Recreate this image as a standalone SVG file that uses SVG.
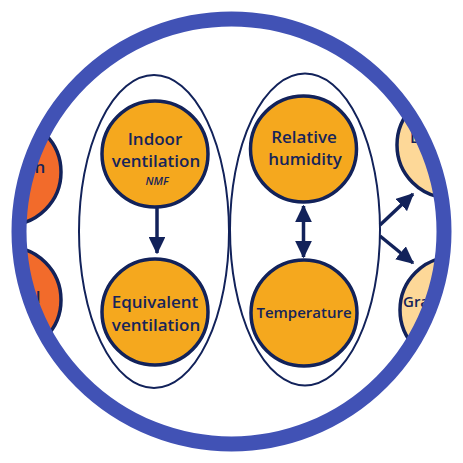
<svg xmlns="http://www.w3.org/2000/svg" width="463" height="463" viewBox="0 0 463 463">
<style>
.t{font-family:"Open Sans","Noto Sans",sans-serif;font-weight:600;fill:#16245A;text-anchor:middle}
.n{stroke:#12225A;stroke-width:3.5}
.o{fill:#F5A81E}
.r{fill:#F26B2B}
.p{fill:#FDD898}
.e{fill:none;stroke:#12225A;stroke-width:2}
.c{stroke:#12225A;stroke-width:3.5;fill:none}
</style>
<defs>
<clipPath id="clip"><circle cx="231.5" cy="231.5" r="206"/></clipPath>
<marker id="ah" markerWidth="5" markerHeight="4.8" refX="4.6" refY="2.4" orient="auto" markerUnits="strokeWidth"><path d="M0,0 L5,2.4 L0,4.8 Z" fill="#12225A"/></marker>
<marker id="ahs" markerWidth="5" markerHeight="4.8" refX="0.4" refY="2.4" orient="auto" markerUnits="strokeWidth"><path d="M5,0 L0,2.4 L5,4.8 Z" fill="#12225A"/></marker>
</defs>
<rect width="463" height="463" fill="#fff"/>
<g clip-path="url(#clip)">
<g id="groupLeft"><ellipse class="e" cx="154" cy="231.5" rx="75" ry="156.5"/></g>
<g id="groupRight"><ellipse class="e" cx="305" cy="229.5" rx="75" ry="156"/></g>
<g id="leftTop"><circle class="n r" cx="8" cy="172" r="53"/><text class="t" x="40" y="173" font-size="17">n</text></g>
<g id="leftBottom"><circle class="n r" cx="8" cy="300" r="53"/><text class="t" x="38" y="303" font-size="17">l</text></g>
<g id="rightTop"><circle class="n p" cx="450" cy="145" r="53"/><text class="t" x="410" y="143" font-size="16" style="text-anchor:start">L</text></g>
<g id="rightBottom"><circle class="n p" cx="453" cy="310" r="53"/><text class="t" x="403" y="307" font-size="15" style="text-anchor:start">Gra</text></g>
<g id="indoor"><circle class="n o" cx="155" cy="154" r="53"/>
<text class="t" x="155" y="145" font-size="17">Indoor</text>
<text class="t" x="156" y="167" font-size="17">ventilation</text>
<text class="t" x="157" y="185" font-size="11" font-style="italic">NMF</text></g>
<g id="equivalent"><circle class="n o" cx="155" cy="312" r="53"/>
<text class="t" x="155" y="308" font-size="17">Equivalent</text>
<text class="t" x="156" y="331" font-size="17">ventilation</text></g>
<g id="humidity"><circle class="n o" cx="303.5" cy="149" r="53"/>
<text class="t" x="304" y="143" font-size="17">Relative</text>
<text class="t" x="305" y="165" font-size="17">humidity</text></g>
<g id="temperature"><circle class="n o" cx="304" cy="313" r="53"/>
<text class="t" x="304" y="318" font-size="15">Temperature</text></g>
<g id="connectors">
<line class="c" x1="157" y1="208" x2="157" y2="253" marker-end="url(#ah)"/>
<line class="c" x1="303.5" y1="206" x2="303.5" y2="257" stroke-width="4" marker-start="url(#ahs)" marker-end="url(#ah)"/>
<line class="c" x1="380" y1="225" x2="413" y2="194" marker-end="url(#ah)"/>
<line class="c" x1="380" y1="236" x2="413" y2="263" marker-end="url(#ah)"/>
</g>
</g>
<circle cx="231.5" cy="231.5" r="212.5" fill="none" stroke="#4152B5" stroke-width="15"/>
</svg>
